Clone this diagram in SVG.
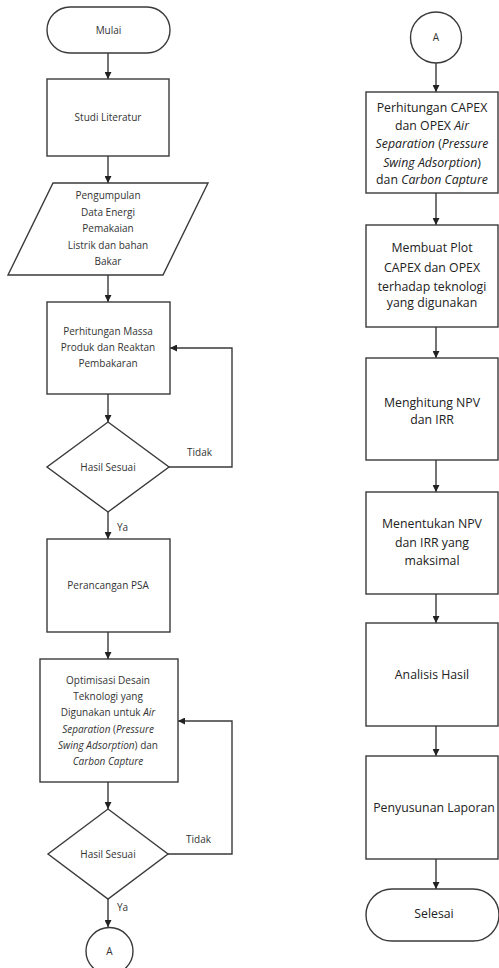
<svg xmlns="http://www.w3.org/2000/svg" width="499" height="968" viewBox="0 0 499 968">
<style>
.s{fill:#fff;stroke:#3a3a3a;stroke-width:1.4}
.c{fill:none;stroke:#3a3a3a;stroke-width:1.4}
.t{font-family:"Open Sans","Liberation Sans",sans-serif;font-size:10px;fill:#333;text-anchor:middle}
.r{font-family:"Open Sans","Liberation Sans",sans-serif;font-size:12.3px;fill:#222;text-anchor:middle}
.l{font-family:"Open Sans","Liberation Sans",sans-serif;font-size:10px;fill:#333}
</style>
<defs>
<marker id="ah" viewBox="0 0 10 10" refX="10" refY="5" markerWidth="7" markerHeight="7" markerUnits="userSpaceOnUse" orient="auto">
<path d="M0,0 L10,5 L0,10 z" fill="#222"/>
</marker>
</defs>
<g id="connectors">
<line class="c" x1="108" y1="53" x2="108" y2="79" marker-end="url(#ah)"/>
<line class="c" x1="108" y1="156" x2="108" y2="183" marker-end="url(#ah)"/>
<line class="c" x1="108" y1="275" x2="108" y2="302" marker-end="url(#ah)"/>
<line class="c" x1="108" y1="394" x2="108" y2="422" marker-end="url(#ah)"/>
<polyline class="c" points="169,467 232,467 232,348 170,348" marker-end="url(#ah)"/>
<line class="c" x1="108" y1="512" x2="108" y2="539" marker-end="url(#ah)"/>
<line class="c" x1="108" y1="632" x2="108" y2="659" marker-end="url(#ah)"/>
<line class="c" x1="108" y1="782" x2="108" y2="809" marker-end="url(#ah)"/>
<polyline class="c" points="168,854 232,854 232,721 178,721" marker-end="url(#ah)"/>
<line class="c" x1="108" y1="899" x2="108" y2="927" marker-end="url(#ah)"/>
<text class="l" x="187" y="456">Tidak</text>
<text class="l" x="117" y="531">Ya</text>
<text class="l" x="186" y="843">Tidak</text>
<text class="l" x="117" y="911">Ya</text>
<line class="c" x1="436" y1="63" x2="436" y2="92" marker-end="url(#ah)"/>
<line class="c" x1="436" y1="193" x2="436" y2="225" marker-end="url(#ah)"/>
<line class="c" x1="436" y1="327" x2="436" y2="358" marker-end="url(#ah)"/>
<line class="c" x1="436" y1="460" x2="436" y2="492" marker-end="url(#ah)"/>
<line class="c" x1="436" y1="594" x2="436" y2="623" marker-end="url(#ah)"/>
<line class="c" x1="436" y1="726" x2="436" y2="756" marker-end="url(#ah)"/>
<line class="c" x1="436" y1="859" x2="436" y2="889" marker-end="url(#ah)"/>
</g>
<g id="mulai">
<rect class="s" x="47" y="7" width="123" height="46" rx="23"/>
<text class="t" x="108.5" y="34">Mulai</text>
</g>
<g id="studi">
<rect class="s" x="47" y="79" width="122" height="77"/>
<text class="t" x="108" y="121">Studi Literatur</text>
</g>
<g id="pengumpulan">
<polygon class="s" points="53,183 208,183 163,275 8,275"/>
<text class="t" x="108" y="199">Pengumpulan</text>
<text class="t" x="108" y="216">Data Energi</text>
<text class="t" x="108" y="232">Pemakaian</text>
<text class="t" x="108" y="249">Listrik dan bahan</text>
<text class="t" x="108" y="265">Bakar</text>
</g>
<g id="perhitungan-massa">
<rect class="s" x="47" y="302" width="123" height="92"/>
<text class="t" x="108" y="335">Perhitungan Massa</text>
<text class="t" x="108" y="351">Produk dan Reaktan</text>
<text class="t" x="108" y="367">Pembakaran</text>
</g>
<g id="hasil1">
<polygon class="s" points="108,422 169,467 108,512 47,467"/>
<text class="t" x="108" y="471">Hasil Sesuai</text>
</g>
<g id="psa">
<rect class="s" x="47" y="539" width="123" height="93"/>
<text class="t" x="108" y="589">Perancangan PSA</text>
</g>
<g id="optimisasi">
<rect class="s" x="40" y="659" width="138" height="123"/>
<text class="t" x="108" y="684">Optimisasi Desain</text>
<text class="t" x="108" y="700">Teknologi yang</text>
<text class="t" x="108" y="716">Digunakan untuk <tspan font-style="italic">Air</tspan></text>
<text class="t" x="108" y="733"><tspan font-style="italic">Separation</tspan> (<tspan font-style="italic">Pressure</tspan></text>
<text class="t" x="108" y="749"><tspan font-style="italic">Swing Adsorption</tspan>) dan</text>
<text class="t" x="108" y="765"><tspan font-style="italic">Carbon Capture</tspan></text>
</g>
<g id="hasil2">
<polygon class="s" points="108,809 168,854 108,899 48,854"/>
<text class="t" x="108" y="858">Hasil Sesuai</text>
</g>
<g id="a-left">
<circle class="s" cx="109.5" cy="951" r="23.5"/>
<text class="t" x="109.5" y="955">A</text>
</g>
<g id="a-right">
<circle class="s" cx="436" cy="37.5" r="25.5"/>
<text class="t" x="436" y="41">A</text>
</g>
<g id="capex">
<rect class="s" x="366" y="92" width="132" height="101"/>
<text class="r" x="432" y="112">Perhitungan CAPEX</text>
<text class="r" x="432" y="130">dan OPEX <tspan font-style="italic">Air</tspan></text>
<text class="r" x="432" y="148"><tspan font-style="italic">Separation</tspan> (<tspan font-style="italic">Pressure</tspan></text>
<text class="r" x="432" y="167"><tspan font-style="italic">Swing Adsorption</tspan>)</text>
<text class="r" x="432" y="184">dan <tspan font-style="italic">Carbon Capture</tspan></text>
</g>
<g id="plot">
<rect class="s" x="366" y="225" width="132" height="102"/>
<text class="r" x="432" y="252">Membuat Plot</text>
<text class="r" x="432" y="272">CAPEX dan OPEX</text>
<text class="r" x="432" y="291">terhadap teknologi</text>
<text class="r" x="432" y="307">yang digunakan</text>
</g>
<g id="npv">
<rect class="s" x="366" y="358" width="132" height="102"/>
<text class="r" x="432" y="407">Menghitung NPV</text>
<text class="r" x="432" y="424">dan IRR</text>
</g>
<g id="maks">
<rect class="s" x="366" y="492" width="132" height="102"/>
<text class="r" x="432" y="528">Menentukan NPV</text>
<text class="r" x="432" y="547">dan IRR yang</text>
<text class="r" x="432" y="565">maksimal</text>
</g>
<g id="analisis">
<rect class="s" x="366" y="623" width="132" height="103"/>
<text class="r" x="432" y="679">Analisis Hasil</text>
</g>
<g id="laporan">
<rect class="s" x="366" y="756" width="132" height="103"/>
<text class="r" x="434" y="812">Penyusunan Laporan</text>
</g>
<g id="selesai">
<rect class="s" x="366" y="889" width="133" height="52" rx="26"/>
<text class="r" x="434" y="918">Selesai</text>
</g>
</svg>
